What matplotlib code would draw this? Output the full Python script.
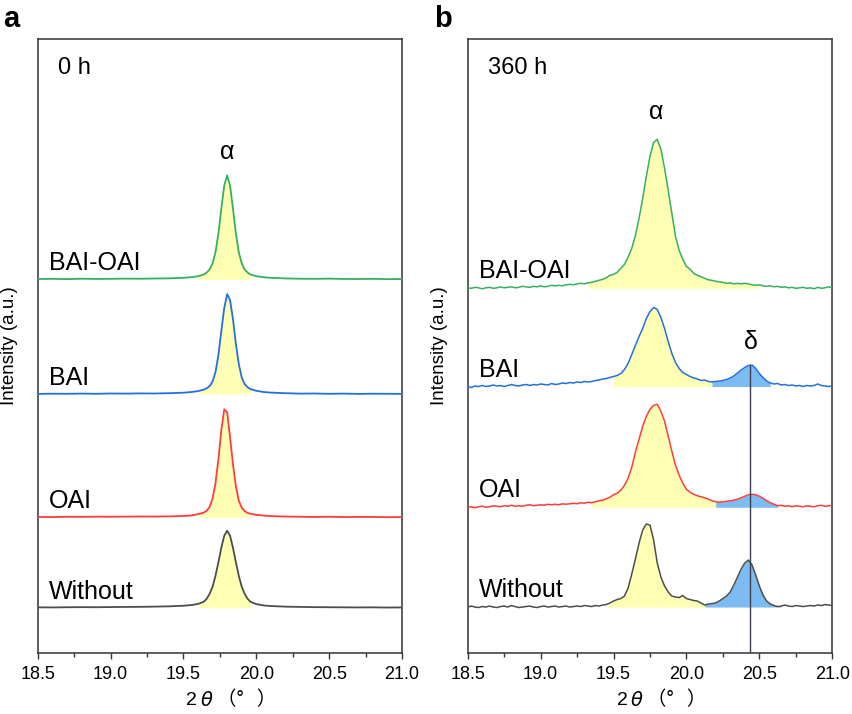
import numpy as np
import matplotlib
matplotlib.use('Agg')
import matplotlib.pyplot as plt
from matplotlib.ticker import MultipleLocator, FormatStrFormatter

plt.rcParams['font.family'] = ['Liberation Sans', 'Noto Sans CJK JP', 'DejaVu Sans']

# ---- panel a : 0 h ----
two_theta_a = [18.5, 18.6, 18.7, 18.8, 18.9, 19.0, 19.1, 19.2, 19.3, 19.4, 19.5,
               19.55, 19.6, 19.64, 19.66, 19.68, 19.70, 19.72, 19.74, 19.76, 19.78,
               19.80, 19.82, 19.84, 19.86, 19.88, 19.90, 19.92, 19.94, 19.96, 20.0,
               20.05, 20.1, 20.2, 20.3, 20.4, 20.5, 20.6, 20.7, 20.8, 20.9, 21.0]

bai_oai_a = [0.3, 0.5, 0.2, 0.6, 0.4, 0.5, 0.7, 0.6, 0.8, 1.0, 1.5,
             2.1, 3.1, 4.9, 6.8, 9.9, 16, 27, 45.8, 70.7, 93.6,
             104, 93.6, 70.7, 45.8, 27, 16, 9.9, 6.8, 4.9, 3.1,
             2.1, 1.5, 0.9, 0.6, 0.5, 0.7, 0.4, 0.3, 0.5, 0.2, 0.3]
bai_a = [0.2, 0.4, 0.3, 0.5, 0.3, 0.6, 0.5, 0.7, 0.6, 0.9, 1.4,
         2.0, 3.0, 4.5, 5.8, 8, 12.6, 22, 39, 63, 86,
         100, 94, 75, 50, 30, 16.7, 10, 6.8, 5, 3.3,
         2.1, 1.5, 0.9, 0.5, 0.6, 0.3, 0.5, 0.2, 0.4, 0.3, 0.2]
oai_a = [0.3, 0.2, 0.5, 0.4, 0.6, 0.5, 0.6, 0.8, 0.7, 0.9, 1.3,
         1.8, 3, 4.7, 6.6, 10.5, 18.7, 34, 58, 87, 108,
         105, 80, 53, 31, 16.5, 9.7, 6.2, 4.4, 3.5, 2.4,
         1.7, 1.2, 0.7, 0.5, 0.3, 0.5, 0.2, 0.4, 0.3, 0.1, 0.2]
without_a = [0.4, 0.3, 0.5, 0.6, 0.5, 0.7, 0.8, 0.9, 1.1, 1.4, 2.0,
             2.6, 3.8, 6, 9, 14, 21, 32, 45.5, 60, 72,
             77, 72, 60, 45.5, 32, 21, 14, 9, 6, 3.6,
             2.3, 1.7, 1.1, 0.8, 0.6, 0.5, 0.4, 0.3, 0.4, 0.2, 0.3]

# ---- panel b : 360 h (step 0.025 deg) ----
two_theta_b = np.linspace(18.5, 21.0, 101)

bai_oai_b = [0.5, 0, 1, 0.5, -0.5, 0.5, 1, 0, 0.5, 1.5,
             0.5, 1, 1.5, 0.5, 1, 2, 1.5, 1, 2, 1.5,
             2.5, 1.5, 2, 3, 2.5, 3, 2.5, 3.5, 4, 3.5,
             4.5, 5, 4.5, 5.5, 6, 7, 8, 9, 10.5, 13,
             14, 16, 20, 24, 31, 40, 53, 70, 90, 112,
             132, 146, 149, 139, 120, 98, 75, 52, 38, 29,
             22, 19, 15, 13, 11.5, 10, 8.5, 8, 7, 6.5,
             6, 5, 5.5, 4.5, 5, 4.5, 5, 4.5, 3.5, 3,
             3.5, 2.5, 2, 2.5, 1.5, 2, 1, 1.5, 0.5, 1,
             0, 0.5, 1, 0, 0.5, -0.5, 1, 0, 0.5, 1.5, 0.5]
bai_b = [0, -1, 0.5, 0, 1, 0, 0.5, 1.5, 0.5, 1,
         0, 1, 2, 1, 0.5, 1.5, 2, 1, 2, 1.5,
         2.5, 2, 1.5, 3, 2, 2.5, 3.5, 3, 4, 3.5,
         4.5, 4, 5, 4.5, 5, 6, 6.5, 7.5, 8, 9,
         10, 11, 13, 17, 23, 32, 41, 50, 58, 68,
         75, 79, 77, 69, 58, 45, 33, 24, 18, 14,
         12, 10, 8.5, 7.5, 6, 6.5, 5, 4.5, 5, 5.5,
         6, 7, 8.5, 10.5, 13.5, 16.5, 19, 21, 21.5, 18,
         13, 9, 5.5, 3.5, 2.5, 3, 1.5, 2, 1, 1.5,
         0.5, 1, 0, 1, 0.5, 1, 2.5, 1, 0.5, 0, 0.5]
oai_b = [0, 0.5, -0.5, 0.5, 1, 0, 0.5, 1.5, 1, 0.5,
         1.5, 1, 2, 1, 1.5, 1, 2, 2.5, 1.5, 2,
         2.5, 2, 3, 2.5, 3, 2.5, 3.5, 3, 3.5, 4,
         3.5, 4.5, 4, 5, 4.5, 5.5, 6.5, 7, 8.5, 10,
         12.5, 14, 17, 22, 29, 40, 55, 68, 81, 91,
         98, 102, 103, 96, 86, 71, 56, 42, 32, 24,
         18, 15, 13, 11.5, 10.5, 9.5, 8, 6.5, 5.5, 5,
         5.5, 6, 6.5, 7, 8, 9.5, 11, 12.5, 13, 12.5,
         11, 9, 6.5, 4.5, 3, 1.5, 2, 1, 1.5, 0.5,
         1.5, 1, 0.5, 1.5, 1, 0.5, 1.5, 2, 1, 1.5, 2]
without_b = [0, 1, 0, -0.5, 0.5, 0, 1, 0, -0.5, 0.5,
             1, 0, 1.5, 0.5, -0.5, 0, 0.5, 1, 0, -0.5,
             0.5, 1, 0, 0.5, 1, 0, 0.5, 1, 0, 0.5,
             1, 0.5, 1.5, 1, 0.5, 1.5, 1, 2, 2.5, 4,
             6, 7.5, 8.5, 11, 19, 33, 48, 64, 77, 83,
             82, 67, 44, 30, 21, 15, 11, 10, 9.5, 11.5,
             8.5, 7.5, 6.5, 6, 4, 2, 3, 3.5, 4, 6,
             8.5, 11, 15, 22, 30, 38, 44, 47, 42, 32,
             21, 12, 6, 3, 1.5, 0.5, 1, 2, 1, 0.5,
             1.5, 1, 0.5, 1, 1.5, 1, 2, 1.5, 2.5, 2, 1.5]

labels = ['Without', 'OAI', 'BAI', 'BAI-OAI']
colors = ['#4d4d4d', '#ff3c3c', '#2270e0', '#35b060']
offsets_a = [45.3, 135.8, 259.0, 373.8]
offsets_b = [46.0, 145.8, 266.6, 364.8]

# fill ranges (alpha phase, delta phase)
alpha_a = [(19.58, 19.98)] * 4
alpha_b = [(19.45, 20.125), (19.35, 20.2), (19.5, 20.175), (19.31, 20.52)]
delta_b = [(20.125, 20.65), (20.2, 20.625), (20.175, 20.59), None]

YELLOW = '#ffffb4'
BLUE = '#7cbcf2'


def style_axes(ax):
    ax.set_xlim(18.5, 21.0)
    ax.set_ylim(0, 614)
    ax.xaxis.set_major_locator(MultipleLocator(0.5))
    ax.xaxis.set_minor_locator(MultipleLocator(0.25))
    ax.xaxis.set_major_formatter(FormatStrFormatter('%.1f'))
    ax.tick_params(axis='x', which='both', direction='out', top=False,
                   labelsize=13, color='#333333', pad=5)
    ax.tick_params(axis='x', which='major', length=4, width=1)
    ax.tick_params(axis='x', which='minor', length=3, width=1)
    ax.set_yticks([])
    for sp in ax.spines.values():
        sp.set_color('#333333')
        sp.set_linewidth(1.1)
    ax.set_ylabel('Intensity (a.u.)', fontsize=13.5)
    ax.yaxis.set_label_coords(-0.054, 0.5)

    # x label: 2θ（°  ）, pieces so the full-width brackets get a CJK font
    kw = dict(xy=(0.5, 0), xycoords='axes fraction', textcoords='offset pixels',
              va='center', fontsize=14)
    ax.annotate('2', xytext=(-28, -47), ha='center', **kw)
    ax.annotate('$\\theta$', xytext=(-13, -47), ha='center', **kw)
    ax.annotate('（°   ）', xytext=(-3, -47), ha='left',
                family=['Noto Sans CJK JP'], **kw)


def fill_part(ax, x, y, off, lo, hi, color):
    x = np.asarray(x, dtype=float)
    y = np.asarray(y, dtype=float)
    mask = (x >= lo - 1e-9) & (x <= hi + 1e-9)
    ax.fill_between(x, off, y + off, where=mask, color=color, lw=0, zorder=1)


fig = plt.figure(figsize=(8.53, 7.14), dpi=100)
ax_a = fig.add_axes([0.0442, 0.0854, 0.4271, 0.8597])
ax_b = fig.add_axes([0.5483, 0.0854, 0.4274, 0.8597])

curves_a = [without_a, oai_a, bai_a, bai_oai_a]
curves_b = [without_b, oai_b, bai_b, bai_oai_b]

for i in range(4):
    y = np.asarray(curves_a[i])
    off = offsets_a[i]
    fill_part(ax_a, two_theta_a, y, off, alpha_a[i][0], alpha_a[i][1], YELLOW)
    ax_a.plot(two_theta_a, y + off, color=colors[i], lw=1.3, zorder=3,
              solid_joinstyle='round')
    ax_a.text(18.577, off + 9, labels[i], fontsize=18, va='baseline', ha='left')

for i in range(4):
    y = np.asarray(curves_b[i])
    off = offsets_b[i]
    fill_part(ax_b, two_theta_b, y, off, alpha_b[i][0], alpha_b[i][1], YELLOW)
    if delta_b[i] is not None:
        fill_part(ax_b, two_theta_b, y, off, delta_b[i][0], delta_b[i][1], BLUE)
    ax_b.plot(two_theta_b, y + off, color=colors[i], lw=1.1, zorder=3)
    ax_b.text(18.577, off + 10, labels[i], fontsize=18, va='baseline', ha='left')

# delta peak marker line
ax_b.vlines(20.435, 0, offsets_b[2] + 21.5, color='#3c4050', lw=1.0, zorder=4)

ax_a.text(18.64, 579, '0 h', fontsize=17, va='baseline')
ax_b.text(18.64, 579, '360 h', fontsize=17, va='baseline')
ax_a.text(19.80, 494, 'α', fontsize=18, ha='center', va='baseline')
ax_b.text(19.79, 534, 'α', fontsize=18, ha='center', va='baseline')
ax_b.text(20.44, 304, 'δ', fontsize=18, ha='center', va='baseline')

for ax in (ax_a, ax_b):
    style_axes(ax)

fig.text(0.004, 0.962, 'a', fontsize=21, fontweight='bold', va='baseline')
fig.text(0.509, 0.962, 'b', fontsize=21, fontweight='bold', va='baseline')

fig.savefig('out.png', dpi=100)
